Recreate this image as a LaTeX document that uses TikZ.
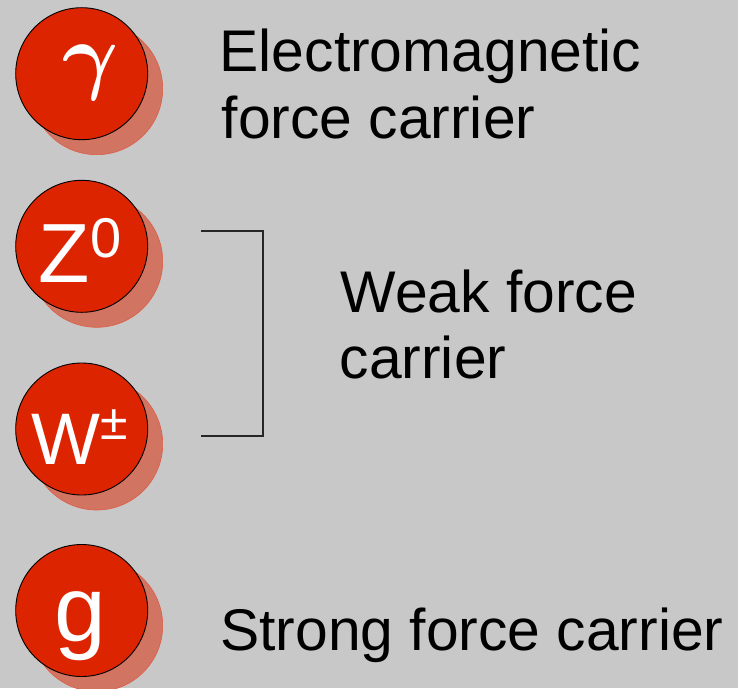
\documentclass[tikz,border=0pt]{standalone}
\usepackage{graphicx}
\usepackage{fontspec}
\setmainfont{Liberation Sans}
\definecolor{bgc}{RGB}{200,200,200}
\definecolor{ballred}{RGB}{221,36,0}
\definecolor{shadowc}{RGB}{209,116,98}
\definecolor{shadowedge}{RGB}{222,92,70}
\newsavebox{\gammabox}
\sbox{\gammabox}{\color{white}\mathversion{bold}$\gamma$}
\begin{document}
\begin{tikzpicture}[x=1pt,y=-1pt,
  ball/.style={circle,fill=ballred,draw=black,line width=0.9pt,minimum size=132pt,inner sep=0pt},
  ballshadow/.style={circle,fill=shadowc,draw=shadowedge,line width=0.6pt,minimum size=132pt,inner sep=0pt},
  lbl/.style={text=white,inner sep=0pt,anchor=base west},
  desc/.style={text=black,inner sep=0pt,anchor=base west,font=\fontsize{58.8}{66}\selectfont},
  bracketline/.style={draw=black!85,line width=1.1pt}]
\useasboundingbox (0,0) rectangle (738,688);
\fill[bgc] (0,0) rectangle (738,688);
% shadows
\node[ballshadow] (s1) at (96.7,88.7) {};
\node[ballshadow] (s2) at (96.7,261.3) {};
\node[ballshadow] (s3) at (96.7,444) {};
\node[ballshadow] (s4) at (96.7,625.5) {};
% balls
\node[ball] (b1) at (81.7,73.7) {};
\node[ball] (b2) at (81.7,246.3) {};
\node[ball] (b3) at (81.7,429) {};
\node[ball] (b4) at (81.7,610.5) {};
% labels
\node[text=white,inner sep=0pt,anchor=base] (gam) at (91,83) {\scalebox{8.6}{\usebox{\gammabox}}};
\node[lbl,font=\fontsize{84}{84}\selectfont] (zlab) at (38.5,282.7) {Z\raisebox{25.7pt}{\fontsize{56}{56}\selectfont 0}};
\node[lbl,font=\fontsize{73}{73}\selectfont] (wlab) at (31.5,464) {W\raisebox{25pt}{\fontsize{50}{50}\selectfont ±}};
\node[text=white,inner sep=0pt,anchor=base,font=\fontsize{93}{93}\selectfont] (glab) at (80.5,641) {g};
% descriptions
\node[desc] (em1) at (219.5,71.7) {Electromagnetic};
\node[desc] (em2) at (221.5,138.3) {force carrier};
\node[desc] (wk1) at (340.5,312) {Weak force};
\node[desc] (wk2) at (339.5,378) {carrier};
\node[desc] (st1) at (220,650) {Strong force carrier};
% bracket
\coordinate (bt) at (201,231);
\coordinate (btr) at (263,231);
\coordinate (bbr) at (263,436);
\coordinate (bb) at (201,436);
\draw[bracketline] (bt) -- (btr) -- (bbr) -- (bb);
\end{tikzpicture}
\end{document}
